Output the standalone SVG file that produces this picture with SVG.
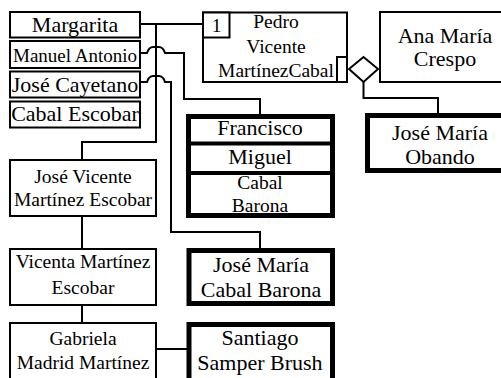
<svg xmlns="http://www.w3.org/2000/svg" width="501" height="378" viewBox="0 0 501 378">
<style>
.b{fill:#fff;stroke:#000;stroke-width:2}
.k{fill:#fff;stroke:#000;stroke-width:5}
.c{fill:none;stroke:#000;stroke-width:2}
text{font-family:'Times New Roman','Liberation Serif','DejaVu Serif',serif;fill:#000;text-anchor:middle}
.l{font-size:22px}
.m{font-size:19.5px}
</style>
<rect width="501" height="378" fill="#fff"/>
<g id="connectors">
<path class="c" d="M141,24 H202"/>
<path class="c" d="M156,24 V142 H82 V159"/>
<path class="c" d="M141,53 H147 Q149,47 153,47 H159 Q163,47 165,53 H184 V99 H260 V114"/>
<path class="c" d="M141,82 H147 Q149,76 153,76 H159 Q163,76 165,82 H171 V232 H260 V248"/>
<path class="c" d="M82,217 V248"/>
<path class="c" d="M82,306 V322"/>
<path class="c" d="M157,349 H187"/>
<path class="c" d="M363.5,82 V98 H438 V113"/>
</g>
<g id="margarita"><rect class="b" x="10" y="12" width="130" height="25.5"/><text class="l" x="75" y="32">Margarita</text></g>
<g id="manuel-antonio"><rect class="b" x="10" y="41" width="130" height="27"/><text x="75" y="62" font-size="19">Manuel Antonio</text></g>
<g id="jose-cayetano"><rect class="b" x="10" y="71.5" width="130" height="26"/><text class="l" x="75" y="91.5">José Cayetano</text></g>
<g id="cabal-escobar"><rect class="b" x="10" y="101.5" width="130" height="26"/><text class="l" x="75" y="121">Cabal Escobar</text></g>
<g id="pedro">
<rect class="b" x="203" y="12.5" width="144" height="69.5"/>
<rect class="b" x="203" y="12.5" width="26.5" height="25"/>
<text class="m" x="216.5" y="32">1</text>
<rect class="b" x="337" y="57" width="10" height="25"/>
<text class="m" x="276" y="28">Pedro</text>
<text class="m" x="276" y="53">Vicente</text>
<text class="m" x="276" y="77">MartínezCabal</text>
</g>
<g id="diamond"><polygon class="b" points="349,69 363.5,57 378,69 363.5,82"/></g>
<g id="ana-maria"><rect class="b" x="380" y="12" width="130" height="70"/><text class="l" x="445" y="43">Ana María</text><text class="l" x="445" y="66">Crespo</text></g>
<g id="jose-maria-obando"><rect class="k" x="367.5" y="115.5" width="140" height="55"/><text class="l" x="440" y="139.5">José María</text><text class="l" x="440" y="163.5">Obando</text></g>
<g id="francisco">
<rect class="k" x="188.5" y="116.5" width="144" height="99"/>
<path d="M188,143.5 H333 M188,173 H333" stroke="#000" stroke-width="4"/>
<text class="l" x="260" y="135">Francisco</text>
<text class="l" x="260" y="164">Miguel</text>
<text class="m" x="260" y="189">Cabal</text>
<text class="m" x="260" y="211.5">Barona</text>
</g>
<g id="jose-vicente"><rect class="b" x="10" y="160" width="146" height="56"/><text class="m" x="83" y="182.5">José Vicente</text><text class="m" x="83" y="206">Martínez Escobar</text></g>
<g id="vicenta"><rect class="b" x="10" y="249" width="146" height="56"/><text class="m" x="83" y="268">Vicenta Martínez</text><text class="m" x="83" y="294">Escobar</text></g>
<g id="gabriela"><rect class="b" x="10" y="323" width="146" height="60"/><text class="m" x="83" y="345">Gabriela</text><text class="m" x="83" y="368.5">Madrid Martínez</text></g>
<g id="jose-maria-cabal"><rect class="k" x="189" y="250.5" width="143.5" height="53"/><text class="l" x="261" y="271.5">José María</text><text class="l" x="261" y="296.5">Cabal Barona</text></g>
<g id="santiago"><rect class="k" x="189" y="324.5" width="143.5" height="60"/><text class="l" x="260" y="345">Santiago</text><text class="l" x="260" y="369.5">Samper Brush</text></g>
</svg>
